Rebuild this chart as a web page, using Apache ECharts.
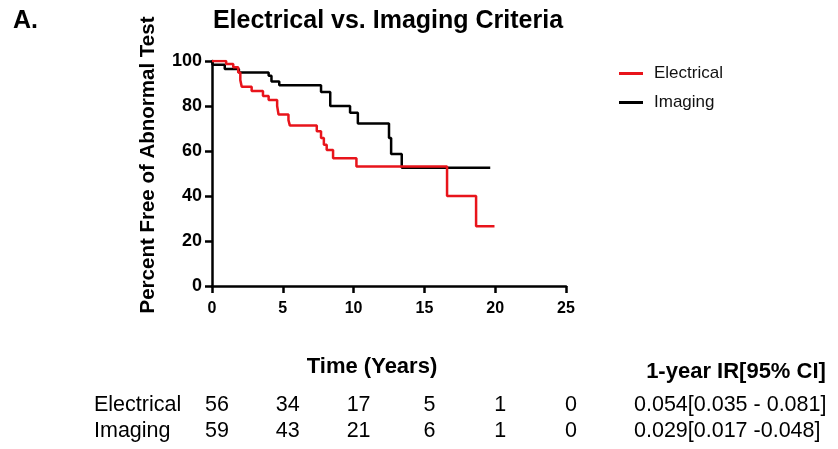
<!DOCTYPE html>
<html><head><meta charset="utf-8">
<script src="https://cdn.jsdelivr.net/npm/echarts@6/dist/echarts.min.js"></script>
<style>html,body{margin:0;padding:0;background:#fff}#c{width:838px;height:449px}</style>
</head><body><div id="c"></div>
<script>
var FONT = '"Liberation Sans", Arial, Helvetica, sans-serif';
// Kaplan-Meier steps [time (years), percent]
var electrical = [[0,100],[1.0,98.7],[1.5,97.2],[1.85,94.9],[2.0,91.5],[2.1,88.6],[2.8,86.7],[3.6,84.5],[4.0,82.7],[4.6,80.0],[4.7,76.2],[5.4,73.7],[5.5,71.3],[7.4,68.8],[7.7,65.8],[7.9,62.8],[8.1,60.5],[8.55,56.8],[10.2,53.1],[16.6,40.0],[18.65,26.6],[19.95,26.6]];
var imaging = [[0,100],[0.05,98.3],[0.9,96.4],[1.9,94.9],[4.0,93.4],[4.2,90.9],[4.75,89.2],[7.7,86.2],[8.35,80.0],[9.75,77.0],[10.3,72.2],[12.5,65.8],[12.65,58.7],[13.4,52.6],[19.65,52.6]];
var xTicks = [0,5,10,15,20,25];
var atRiskElectrical = [56,34,17,5,1,0];
var atRiskImaging = [59,43,21,6,1,0];
var irElectrical = '0.054[0.035 - 0.081]';
var irImaging = '0.029[0.017 -0.048]';

var chart = echarts.init(document.getElementById('c'));
chart.setOption({
  animation:false,
  textStyle:{fontFamily:FONT},
  title:[
    {text:'Electrical vs. Imaging Criteria', left:383, top:4, textAlign:'center',
     textStyle:{fontFamily:FONT,fontSize:25,fontWeight:'bold',color:'#000'}},
    {text:'A.', left:8, top:4, textStyle:{fontFamily:FONT,fontSize:25,fontWeight:'bold',color:'#000'}}
  ],
  legend:{orient:'vertical', left:614, top:60, itemGap:12, itemWidth:24, itemHeight:3, icon:'rect',
    textStyle:{fontFamily:FONT,fontSize:17,color:'#111',padding:[0,0,0,6]},
    data:[{name:'Electrical'},{name:'Imaging'}]},
  grid:{left:212, right:272, top:61, bottom:163},
  xAxis:{type:'value', min:0, max:25, interval:5,
    axisLine:{lineStyle:{color:'#000',width:2.5}},
    axisTick:{show:true,length:7,lineStyle:{color:'#000',width:2.5}},
    axisLabel:{fontFamily:FONT,fontSize:16,fontWeight:'bold',color:'#000',margin:15},
    splitLine:{show:false}},
  yAxis:{type:'value', min:0, max:100, interval:20,
    axisLine:{show:true,lineStyle:{color:'#000',width:2.5}},
    axisTick:{show:true,length:7,lineStyle:{color:'#000',width:2.5}},
    axisLabel:{fontFamily:FONT,fontSize:18,fontWeight:'bold',color:'#000',margin:10},
    splitLine:{show:false}},
  series:[
    {name:'Imaging', type:'line', step:'end', data:imaging, showSymbol:false, symbol:'none',
     lineStyle:{color:'#000',width:2.5}, itemStyle:{color:'#000'}, z:2},
    {name:'Electrical', type:'line', step:'end', data:electrical, showSymbol:false, symbol:'none',
     lineStyle:{color:'#e8141b',width:2.5}, itemStyle:{color:'#e8141b'}, z:3}
  ]
});

var g = [];
var txt = function(t, x, y, align, bold, size, rot){
  return {type:'text', x:x, y:y, rotation:rot||0,
    style:{text:t, x:0, y:0, textAlign:align, textVerticalAlign:'middle',
    fontFamily:FONT, fontSize:size, fontWeight:bold?'bold':'normal', fill:'#000'}};
};
g.push(txt('Percent Free of Abnormal Test', 148, 165, 'center', true, 20.5, Math.PI/2));
g.push(txt('Time (Years)', 372, 367, 'center', true, 22));
g.push(txt('1-year IR[95% CI]', 736, 372, 'center', true, 22));
g.push(txt('Electrical', 94, 405, 'left', false, 21.5));
g.push(txt('Imaging', 94, 431, 'left', false, 21.5));
for (var i=0;i<xTicks.length;i++){
  var px = chart.convertToPixel({xAxisIndex:0}, xTicks[i]) + 5;
  g.push(txt(String(atRiskElectrical[i]), px, 405, 'center', false, 21.5));
  g.push(txt(String(atRiskImaging[i]), px, 431, 'center', false, 21.5));
}
g.push(txt(irElectrical, 634, 405, 'left', false, 21.5));
g.push(txt(irImaging, 634, 431, 'left', false, 21.5));
chart.setOption({graphic:g});
</script></body></html>
